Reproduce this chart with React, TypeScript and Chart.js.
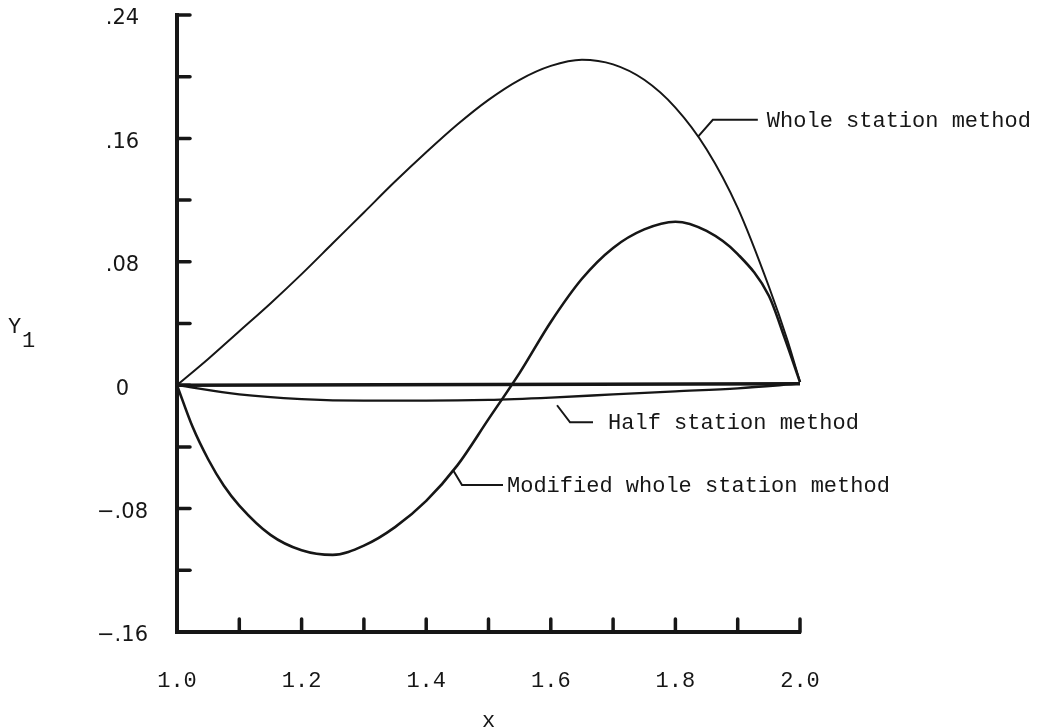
import React, { useEffect, useRef } from "react";
import { Chart, registerables } from "chart.js";

Chart.register(...registerables);

// ---- Data ----
const X_WHOLE = [1.0, 1.05, 1.1, 1.15, 1.2, 1.25, 1.3, 1.35, 1.4, 1.45, 1.5, 1.55, 1.6, 1.65, 1.7, 1.75, 1.8, 1.85, 1.9, 1.95, 1.98, 2.0];
const Y_WHOLE = [0, 0.017, 0.035, 0.053, 0.072, 0.092, 0.112, 0.132, 0.151, 0.169, 0.185, 0.198, 0.207, 0.211, 0.208, 0.198, 0.180, 0.153, 0.115, 0.064, 0.029, 0.002];

const X_MODIFIED = [1.0, 1.025, 1.05, 1.075, 1.1, 1.15, 1.2, 1.25, 1.3, 1.35, 1.4, 1.45, 1.5, 1.55, 1.6, 1.65, 1.7, 1.75, 1.8, 1.85, 1.9, 1.95, 1.975, 2.0];
const Y_MODIFIED = [0, -0.027, -0.048, -0.065, -0.078, -0.097, -0.107, -0.110, -0.104, -0.092, -0.075, -0.052, -0.022, 0.008, 0.041, 0.069, 0.089, 0.101, 0.106, 0.100, 0.085, 0.058, 0.031, 0.002];

const X_HALF = [1.0, 1.1, 1.2, 1.3, 1.4, 1.5, 1.6, 1.7, 1.8, 1.9, 2.0];
const Y_HALF = [0, -0.006, -0.009, -0.010, -0.010, -0.0095, -0.008, -0.006, -0.004, -0.002, 0.001];

const X_ZERO = [1.0, 2.0];
const Y_ZERO = [0, 0.001];

const Y_TICK_VALUES = [0.24, 0.16, 0.08, 0, -0.08, -0.16];
const Y_TICK_LABELS = [".24", ".16", ".08", "0", "\u2212.08", "\u2212.16"];
const X_TICK_VALUES = [1.0, 1.2, 1.4, 1.6, 1.8, 2.0];
const X_TICK_LABELS = ["1.0", "1.2", "1.4", "1.6", "1.8", "2.0"];

const X_TITLE = "x";
const Y_TITLE = "Y";
const Y_TITLE_SUB = "1";

// annotation labels: anchor on curve (data units)
const ANNOT_TEXT = ["Whole station method", "Half station method", "Modified whole station method"];
const ANNOT_X = [1.836, 1.61, 1.443];
const ANNOT_Y = [0.161, -0.013, -0.055];

const INK = "#161616";
const MONO = "'Liberation Mono', 'DejaVu Sans Mono', monospace";
const SANS = "'DejaVu Sans', 'Liberation Sans', sans-serif";

// leader geometry in pixels relative to anchor: [elbowDx, elbowDy, lineEndDx, textDx]
const ANNOT_GEOM = [
  [15, -17, 60, 69],
  [13, 17, 36, 51],
  [9, 15, 50, 54],
];

const toPts = (xs: number[], ys: number[]) => xs.map((x, i) => ({ x, y: ys[i] }));

const findLabel = (vals: number[], labels: string[], v: number) => {
  for (let i = 0; i < vals.length; i++) if (Math.abs(vals[i] - v) < 1e-6) return labels[i];
  return "";
};

const decorPlugin = {
  id: "decor",
  afterDraw(chart: any) {
    const ctx = chart.ctx;
    const xs = chart.scales.x;
    const ys = chart.scales.y;
    const area = chart.chartArea;
    ctx.save();
    ctx.strokeStyle = INK;
    ctx.fillStyle = INK;
    ctx.lineCap = "round";
    // inward tick marks
    ctx.lineWidth = 3.5;
    ys.ticks.forEach((t: any) => {
      const py = ys.getPixelForValue(t.value);
      if (Math.abs(t.value - ys.min) < 1e-6) return;
      ctx.beginPath();
      ctx.moveTo(area.left, py);
      ctx.lineTo(area.left + 13, py);
      ctx.stroke();
    });
    xs.ticks.forEach((t: any) => {
      const px = xs.getPixelForValue(t.value);
      if (Math.abs(t.value - xs.min) < 1e-6) return;
      ctx.beginPath();
      ctx.moveTo(px, area.bottom);
      ctx.lineTo(px, area.bottom - 13);
      ctx.stroke();
    });

    // annotations
    ctx.lineWidth = 2;
    ctx.lineCap = "butt";
    ctx.font = `22px ${MONO}`;
    ctx.textBaseline = "middle";
    ctx.textAlign = "left";
    ANNOT_TEXT.forEach((txt, i) => {
      const ax = xs.getPixelForValue(ANNOT_X[i]);
      const ay = ys.getPixelForValue(ANNOT_Y[i]);
      const [edx, edy, lx, tx] = ANNOT_GEOM[i];
      ctx.beginPath();
      ctx.moveTo(ax, ay);
      ctx.lineTo(ax + edx, ay + edy);
      ctx.lineTo(ax + lx, ay + edy);
      ctx.stroke();
      ctx.fillText(txt, ax + tx, ay + edy + 1);
    });

    // axis titles
    ctx.textAlign = "center";
    ctx.fillText(X_TITLE, (area.left + area.right) / 2, 721);
    ctx.textAlign = "left";
    ctx.textBaseline = "alphabetic";
    ctx.fillText(Y_TITLE, 8, 333);
    ctx.fillText(Y_TITLE_SUB, 22, 347);
    ctx.restore();
  },
};

export default function App() {
  const ref = useRef<HTMLCanvasElement | null>(null);
  useEffect(() => {
    if (!ref.current) return;
    const line = (data: any, width: number) => ({
      data,
      borderColor: INK,
      backgroundColor: INK,
      borderWidth: width,
      pointRadius: 0,
      showLine: true,
      fill: false,
      cubicInterpolationMode: "monotone" as const,
      clip: false as any,
    });
    const chart = new Chart(ref.current, {
      type: "scatter",
      data: {
        datasets: [
          { ...line(toPts(X_ZERO, Y_ZERO), 3.5), label: "zero" },
          { ...line(toPts(X_HALF, Y_HALF), 2.3), label: "Half station method" },
          { ...line(toPts(X_MODIFIED, Y_MODIFIED), 2.6), label: "Modified whole station method" },
          { ...line(toPts(X_WHOLE, Y_WHOLE), 2), label: "Whole station method" },
        ],
      },
      options: {
        responsive: false,
        animation: false,
        layout: { padding: { top: 15, right: 239, bottom: 0, left: 0 } },
        plugins: { legend: { display: false }, tooltip: { enabled: false }, title: { display: false } },
        scales: {
          x: {
            type: "linear",
            min: 1.0,
            max: 2.0,
            grid: { display: false, drawTicks: false },
            border: { display: true, width: 4, color: INK },
            ticks: {
              stepSize: 0.1,
              autoSkip: false,
              maxRotation: 0,
              padding: 36,
              color: INK,
              font: { family: MONO, size: 22 },
              callback: (v: any) => findLabel(X_TICK_VALUES, X_TICK_LABELS, Number(v)),
            },
            afterFit: (s: any) => { s.height = 96; s.paddingLeft = 0; s.paddingRight = 0; },
          },
          y: {
            type: "linear",
            min: -0.16,
            max: 0.24,
            grid: { display: false, drawTicks: false },
            border: { display: true, width: 4, color: INK },
            ticks: {
              stepSize: 0.04,
              autoSkip: false,
              padding: 29,
              labelOffset: 4,
              crossAlign: "center",
              color: INK,
              font: { family: SANS, size: 21 },
              callback: (v: any) => findLabel(Y_TICK_VALUES, Y_TICK_LABELS, Number(v)),
            },
            afterFit: (s: any) => { s.width = 177; s.paddingTop = 0; s.paddingBottom = 0; },
          },
        },
      },
      plugins: [decorPlugin],
    });
    return () => chart.destroy();
  }, []);
  return (
    <div style={{ position: "absolute", left: 0, top: 0, width: 1039, height: 728, background: "#fff" }}>
      <canvas ref={ref} width={1039} height={728} style={{ display: "block" }} />
    </div>
  );
}
